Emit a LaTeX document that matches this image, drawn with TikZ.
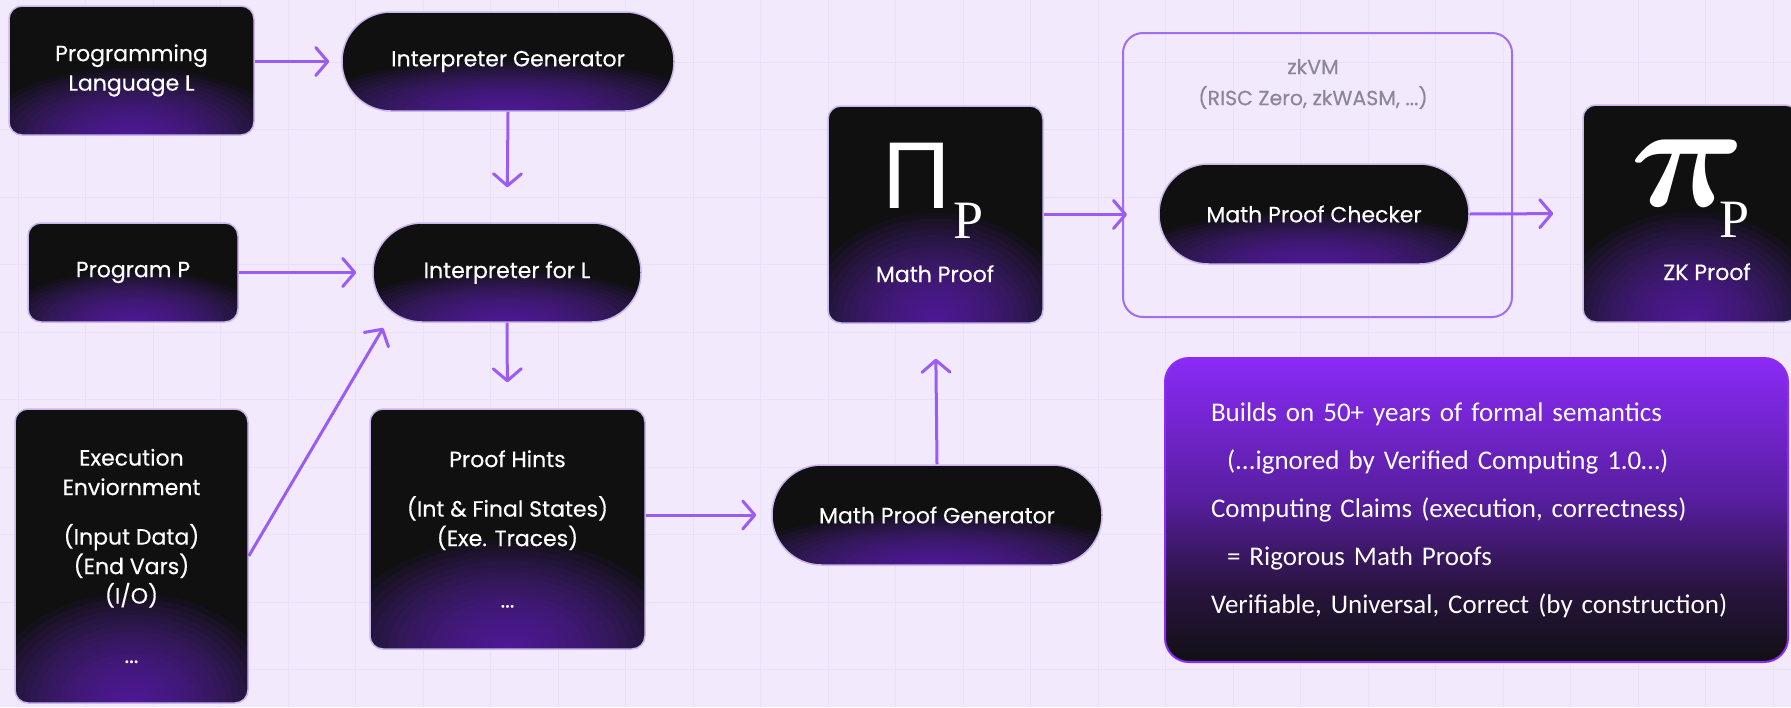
\documentclass[tikz,border=0pt]{standalone}
\usepackage{graphicx}
\usepackage{fontspec}
\setmainfont{Poppins}[UprightFeatures={FakeBold=0.4}]
\newfontfamily\notefont{Carlito}
\newfontfamily\symsans{Liberation Sans}
\newfontfamily\symserif{Liberation Serif}
\usetikzlibrary{arrows.meta}
\definecolor{bgc}{RGB}{242,233,253}
\definecolor{gridc}{RGB}{234,224,248}
\definecolor{cardbg}{RGB}{16,16,17}
\definecolor{glowc}{RGB}{112,40,210}
\definecolor{cardline}{RGB}{200,182,240}
\definecolor{flowc}{RGB}{155,92,246}
\definecolor{framec}{RGB}{160,110,240}
\definecolor{greyc}{RGB}{140,135,150}
\definecolor{notetop}{RGB}{138,43,246}
\definecolor{notemid}{RGB}{88,30,160}
\definecolor{notelow}{RGB}{40,20,62}
\definecolor{notebot}{RGB}{18,16,21}
\definecolor{noteline}{RGB}{139,44,245}
\pgfdeclareverticalshading{notefade}{100bp}{color(0bp)=(notebot); color(25bp)=(notebot); color(37bp)=(notelow); color(52bp)=(notemid); color(75bp)=(notetop); color(100bp)=(notetop)}
\tikzset{
  darkbox/.style={draw=cardline, line width=1.5pt, fill=cardbg, text=white, align=center,
    font=\fontsize{22}{29.5}\selectfont, inner sep=0pt},
  card/.style={darkbox, rounded corners=13pt},
  pill/.style={darkbox, rounded corners=#1},
  cardtext/.style={text=white, inner sep=0pt, anchor=base, font=\fontsize{22}{29.5}\selectfont},
  zkframe/.style={draw=framec, line width=2pt, rounded corners=20pt},
  greytext/.style={text=greyc, align=center, inner sep=0pt, font=\fontsize{20.5}{31}\selectfont},
  claimbox/.style={draw=noteline, line width=2pt, rounded corners=24pt, shade, shading=notefade,
    minimum width=623pt, minimum height=304pt, text width=531pt, align=left, text=white,
    inner sep=0pt, font=\notefont\fontsize{27}{48}\selectfont},
  flow/.style={draw=flowc, line width=3pt, -{Straight Barb[length=12pt, width=28pt, line width=3pt, round]}}
}
\newcommand\DarkBox[6]{
  \node[#1, minimum width=#4pt, minimum height=#5pt,
    path picture={\foreach \k in {1,...,20} \fill[glowc, fill opacity=0.06] (path picture bounding box.south)
      ellipse [x radius={0.62*#4*\k/20*1pt}, y radius={min(0.52*#5,110)*\k/20*1pt}];}]
    (#2) at (#3) {#6};
}

\begin{document}
\begin{tikzpicture}[x=1pt,y=-1pt]
\useasboundingbox (0,0) rectangle (1791,707);
\clip (0,0) rectangle (1791,707);
\fill[bgc] (0,0) rectangle (1791,707);
\foreach \i in {0,...,26} \draw[gridc, line width=1pt] (18+67.5*\i,0) -- ++(0,707);
\foreach \i in {0,...,11} \draw[gridc, line width=1pt] (0,-5.5+67.5*\i) -- ++(1791,0);

\node[zkframe, minimum width=389pt, minimum height=284pt] (zkvm) at (1317.5,175) {};
\node[greytext] (zkname) at (1313,84) {zkVM\\(RISC Zero, zkWASM, ...)};

\DarkBox{card}{proglang}{131.5,70.5}{245}{129}{Programming\\Language L}
\DarkBox{pill=49pt}{interpgen}{508,61.5}{332}{99}{Interpreter Generator}
\DarkBox{card}{progP}{133,272.5}{210}{99}{Program P}
\DarkBox{pill=49pt}{interpL}{507,272.5}{268}{99}{Interpreter for L}
\DarkBox{card}{execenv}{131.5,556}{233}{294}{Execution\\Enviornment\\[20pt](Input Data)\\(End Vars)\\(I/O)\\[30pt]...}
\DarkBox{card}{proofhints}{507.5,529}{275}{240}{Proof Hints\\[20pt](Int \& Final States)\\(Exe. Traces)\\[32pt]...}
\DarkBox{pill=49.5pt}{mpgen}{937,515}{330}{100}{Math Proof Generator}
\DarkBox{card}{mathproof}{935.5,214.5}{215}{217}{}
\DarkBox{pill=49.5pt}{checker}{1314,214}{310}{100}{Math Proof Checker}
\DarkBox{card}{zkproof}{1690.5,213.5}{215}{217}{}

\node[cardtext] (mpsym) at (933,208) {{\symsans\fontsize{95}{95}\selectfont Π}\hspace{2pt}\raisebox{-30pt}{\symserif\fontsize{54}{54}\selectfont P}};
\node[cardtext] (mplabel) at (935,282) {Math Proof};
\node[cardtext, anchor=base west] (zksym) at (1630,200) {\raisebox{-6pt}{\scalebox{16}[15]{\fontsize{10}{12}\selectfont\boldmath$\pi$}}\hspace{-26pt}\raisebox{-37pt}{\symserif\fontsize{54}{54}\selectfont P}};
\node[cardtext] (zklabel) at (1707,280) {ZK Proof};

\node[claimbox] (claims) at (1476.5,510) {Builds on 50+ years of formal semantics\\
  \hspace*{16pt}(...ignored by Verified Computing 1.0…)\\
  Computing Claims (execution, correctness)\\
  \hspace*{16pt}= Rigorous Math Proofs\\
  Verifiable, Universal, Correct (by construction)};

\draw[flow, shorten >=12pt] (proglang.east |- interpgen.west) -- (interpgen.west);
\draw[flow, shorten >=35pt] (interpgen.south) -- (interpL.north);
\draw[flow, shorten >=16pt] (progP.east) -- (interpL.west);
\draw[flow, shorten >=6pt] (execenv.east) -- ([xshift=14pt]interpL.south west);
\draw[flow, shorten >=26pt] (interpL.south) -- (proofhints.north);
\draw[flow, shorten >=15pt] (proofhints.east |- mpgen.west) -- (mpgen.west);
\draw[flow, shorten >=35pt] (mpgen.north) -- (mathproof.south);
\draw[flow, shorten >=-5pt] (mathproof.east) -- (mathproof.east -| zkvm.west);
\draw[flow, shorten >=29pt] (checker.east) -- (zkproof.west);
\end{tikzpicture}
\end{document}
